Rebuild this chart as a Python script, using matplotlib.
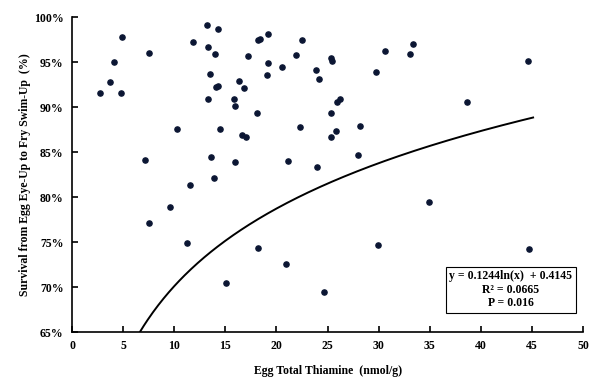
import numpy as np
from matplotlib import pyplot as plt
from matplotlib.ticker import PercentFormatter

# egg total thiamine (nmol/g) and survival (%)
thiamine = [2.74, 3.72, 4.14, 4.89, 4.82, 7.56, 7.14, 10.30, 11.84, 13.24,
            14.26, 13.31, 13.96, 13.47, 14.09, 14.26, 13.34, 14.45, 13.60, 15.98,
            13.86, 15.88, 15.98, 16.31, 19.21, 18.17, 18.40, 22.48, 17.25, 21.92,
            19.21, 19.05, 20.52, 23.85, 24.17, 25.37, 25.44, 30.60, 29.77, 16.83,
            18.10, 25.90, 26.22, 25.37, 22.28, 28.18, 16.60, 17.00, 25.37, 25.86,
            21.16, 24.00, 28.01, 33.10, 33.37, 44.59, 38.62, 11.52, 9.62, 7.50,
            11.28, 15.07, 18.17, 20.97, 24.69, 29.91, 34.93, 44.69]
survival = [91.6, 92.8, 95.0, 97.8, 91.6, 96.0, 84.1, 87.6, 97.2, 99.1,
            98.7, 96.7, 95.9, 93.7, 92.2, 92.3, 90.9, 87.6, 84.4, 83.9,
            82.1, 90.9, 90.1, 92.9, 98.1, 97.4, 97.6, 97.4, 95.7, 95.8,
            94.9, 93.6, 94.4, 94.1, 93.1, 95.5, 95.1, 96.2, 93.9, 92.1,
            89.3, 90.6, 90.9, 89.3, 87.8, 87.9, 86.9, 86.7, 86.7, 87.3,
            84.0, 83.3, 84.7, 95.9, 97.0, 95.1, 90.6, 81.3, 78.9, 77.1,
            74.9, 70.4, 74.3, 72.6, 69.5, 74.7, 79.5, 74.2]

# log fit: y = a ln(x) + b
a, b = 0.1244, 0.4145
fit_x_end = 45.1

x = np.array(thiamine)
y = np.array(survival) / 100

plt.rcParams['font.family'] = 'Liberation Serif'
plt.rcParams['font.weight'] = 'bold'

fig = plt.figure(figsize=(6, 3.84), dpi=100)
ax = fig.add_axes([0.12, 0.1354, 0.852, 0.8203])

ax.scatter(x, y, s=14, color='#0b1633', zorder=3)

x0 = np.exp((0.65 - b) / a)
xf = np.linspace(x0, fit_x_end, 300)
ax.plot(xf, a * np.log(xf) + b, color='black', linewidth=1.4)

ax.text(42.9, 0.697, 'y = 0.1244ln(x)  + 0.4145\nR² = 0.0665\nP = 0.016',
        ha='center', va='center', fontsize=8.5, fontweight='bold', linespacing=1.15,
        bbox=dict(boxstyle='square,pad=0.3', facecolor='white', edgecolor='black', linewidth=0.8))

ax.set_xlim(0, 50)
ax.set_ylim(0.65, 1.0)
ax.set_xticks(np.arange(0, 51, 5))
ax.set_yticks(np.arange(0.65, 1.001, 0.05))
ax.yaxis.set_major_formatter(PercentFormatter(1, decimals=0))
ax.tick_params(direction='in', length=4, width=1.2, labelsize=8.5, pad=6)
for lbl in ax.get_xticklabels() + ax.get_yticklabels():
    lbl.set_fontweight('bold')

ax.spines['top'].set_visible(False)
ax.spines['right'].set_visible(False)
ax.spines['left'].set_linewidth(1.2)
ax.spines['bottom'].set_linewidth(1.2)

ax.set_xlabel('Egg Total Thiamine  (nmol/g)', fontsize=8.5, fontweight='bold', labelpad=9)
ax.set_ylabel('Survival from Egg Eye-Up to Fry Swim-Up  (%)', fontsize=8.5, fontweight='bold', labelpad=2)

plt.savefig('out.png', dpi=100)
